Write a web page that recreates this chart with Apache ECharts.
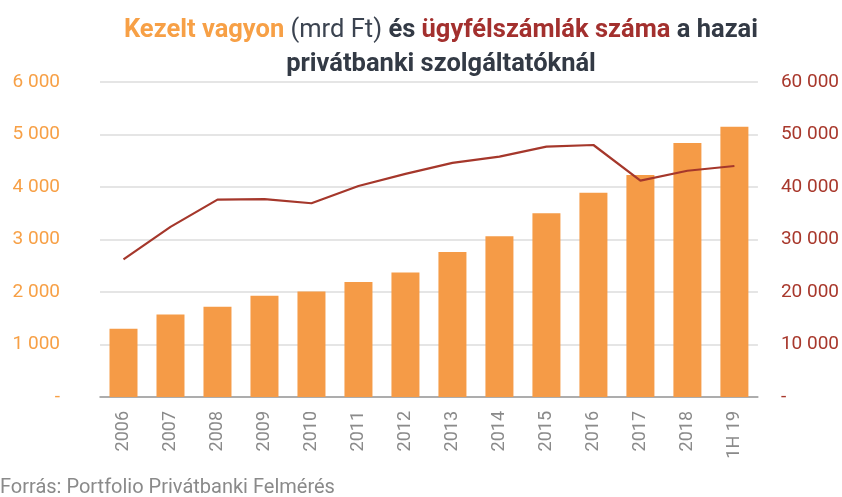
<!DOCTYPE html>
<html>
<head>
<meta charset="utf-8">
<script src="https://cdn.jsdelivr.net/npm/echarts@6/dist/echarts.min.js"></script>
<style>
  html, body { margin: 0; padding: 0; background: #fff; }
  #chart { width: 842px; height: 497px; }
</style>
</head>
<body>
<div id="chart"></div>
<script>
// kategóriák és adatok
var years = ['2006', '2007', '2008', '2009', '2010', '2011', '2012', '2013', '2014', '2015', '2016', '2017', '2018', '1H 19'];
var vagyon = [1300, 1570, 1720, 1930, 2010, 2190, 2370, 2760, 3060, 3500, 3890, 4230, 4840, 5150];
var szamlak = [26200, 32400, 37600, 37700, 36900, 40200, 42500, 44600, 45800, 47700, 48000, 41200, 43100, 44000];

function fmt(v) {
    if (v === 0) return '-';
    return String(v).replace(/\B(?=(\d{3})+(?!\d))/g, ' ');
}

var chart = echarts.init(document.getElementById('chart'));
var option = {
    animation: false,
    textStyle: { fontFamily: 'Roboto' },
    title: {
        text: '{o|Kezelt vagyon} {n|(mrd Ft)} {d|és} {r|ügyfélszámlák száma} {d|a hazai}\n{d|privátbanki szolgáltatóknál}',
        left: 436,
        top: 9,
        textAlign: 'center',
        textStyle: {
            fontSize: 25.5,
            lineHeight: 34,
            rich: {
                o: { color: '#F7A046', fontWeight: 'bold', fontSize: 25.5, fontFamily: 'Roboto' },
                n: { color: '#3b4350', fontWeight: 'normal', fontSize: 25.5, fontFamily: 'Roboto' },
                d: { color: '#333a45', fontWeight: 'bold', fontSize: 25.5, fontFamily: 'Roboto' },
                r: { color: '#A3302E', fontWeight: 'bold', fontSize: 25.5, fontFamily: 'Roboto' }
            }
        }
    },
    grid: { left: 100, right: 84, top: 82, bottom: 100 },
    xAxis: {
        type: 'category',
        data: years,
        axisLine: { lineStyle: { color: '#9a9a9a', width: 1.5 } },
        axisTick: { show: false },
        axisLabel: { rotate: 90, color: '#8a8a8a', fontSize: 18, margin: 14 }
    },
    yAxis: [{
        type: 'value',
        min: 0, max: 6000, interval: 1000,
        axisLine: { show: false },
        axisTick: { show: false },
        splitLine: { lineStyle: { color: '#dcdcdc', width: 1.5 } },
        axisLabel: { color: '#F7A046', fontSize: 19, margin: 40, formatter: fmt }
    }, {
        type: 'value',
        min: 0, max: 60000, interval: 10000,
        axisLine: { show: false },
        axisTick: { show: false },
        splitLine: { show: false },
        axisLabel: { color: '#A8382C', fontSize: 19, margin: 23, formatter: fmt }
    }],
    series: [{
        name: 'Kezelt vagyon',
        type: 'bar',
        data: vagyon,
        barWidth: 28,
        itemStyle: { color: '#F59B47' }
    }, {
        name: 'Ügyfélszámlák száma',
        type: 'line',
        yAxisIndex: 1,
        data: szamlak,
        symbol: 'none',
        lineStyle: { color: '#A5372B', width: 2.2 }
    }],
    graphic: [{
        type: 'text',
        left: 0,
        top: 478,
        style: { text: 'Forrás: Portfolio Privátbanki Felmérés', fill: '#8a8a8a', font: '20px Roboto' }
    }]
};
chart.setOption(option);
</script>
</body>
</html>
